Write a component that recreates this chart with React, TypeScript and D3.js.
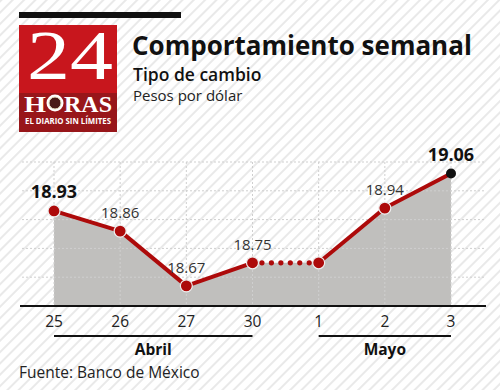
import * as d3 from 'd3';

const days = ['25', '26', '27', '30', '1', '2', '3'];
const rates = [18.93, 18.86, 18.67, 18.75, 18.75, 18.94, 19.06];
const boldLabels = [true, false, false, false, false, false, true];
const hiddenLabels = [false, false, false, false, true, false, false];
const dottedSegments = [3];
const yTicks = [18.7, 18.8, 18.9, 19.0, 19.1];
const monthNames = ['Abril', 'Mayo'];
const monthFirst = [0, 4];
const monthLast = [3, 6];

const W = 500;
const H = 390;
const FONT = '"Open Sans", sans-serif';
const RED = '#ad0a0a';

export default function App() {
  const x = d3.scalePoint<string>().domain(days).range([54, 451]);
  const y = d3.scaleLinear().domain([18.6, 19.1]).range([306, 162]);

  const pts: [number, number][] = days.map((d, i) => [x(d)!, y(rates[i])]);
  const area = d3.area<[number, number]>().x((p) => p[0]).y0(y(18.6)).y1((p) => p[1]);
  const line = d3.line();

  return (
    <svg width={W} height={H} style={{ position: 'absolute', left: 0, top: 0, fontFamily: FONT }}>
      <defs>
        <pattern id="stripes" patternUnits="userSpaceOnUse" width={8} height={8} patternTransform="rotate(45)">
          <rect width={8} height={8} fill="#fff" />
          <line x1={1} y1={0} x2={1} y2={8} stroke="#dedede" strokeWidth={1.3} />
        </pattern>
      </defs>
      <rect width={W} height={H} fill="url(#stripes)" />

      {/* header */}
      <rect x={19} y={12} width={162} height={6} fill="#111" />
      <rect x={19} y={25} width={98} height={107} fill="#c8161d" />
      <rect x={19} y={93} width={98} height={39} fill="#98161a" />
      <text x={27} y={79} fill="#fff" fontFamily='"Liberation Serif", serif' fontSize={70}
        textLength={86} lengthAdjust="spacingAndGlyphs">24</text>
      <text x={24} y={112} fill="#fff" fontFamily='"Liberation Serif", serif' fontWeight="bold" fontSize={24}
        textLength={22} lengthAdjust="spacingAndGlyphs">H</text>
      <circle cx={55} cy={103} r={8.5} fill="#fff" />
      <circle cx={55} cy={103} r={6} fill="#4a1a18" stroke="#e8e0c0" strokeWidth={1} />
      <text x={64} y={112} fill="#fff" fontFamily='"Liberation Serif", serif' fontWeight="bold" fontSize={24}
        textLength={48} lengthAdjust="spacingAndGlyphs">RAS</text>
      <text x={25} y={124} fill="#fff" fontWeight="bold" fontSize={8.5}
        textLength={86} lengthAdjust="spacingAndGlyphs">EL DIARIO SIN LÍMITES</text>

      <text x={132} y={55} fill="#111" fontWeight="bold" fontSize={26}>Comportamiento semanal</text>
      <text x={133} y={81} fill="#111" fontWeight={600} fontSize={17.5}>Tipo de cambio</text>
      <text x={133} y={101} fill="#222" fontSize={15}>Pesos por dólar</text>

      {/* area */}
      <path d={area(pts)!} fill="#c0bfbd" />

      {/* grid */}
      {yTicks.map((t) => (
        <line key={t} x1={22} x2={485} y1={y(t)} y2={y(t)} stroke="#cfcfcf" strokeDasharray="2,2" />
      ))}
      {days.map((d) => (
        <line key={d} x1={x(d)} x2={x(d)} y1={y(19.1)} y2={306} stroke="#cfcfcf" strokeDasharray="2,2" />
      ))}

      <line x1={20} x2={486} y1={306} y2={306} stroke="#111" strokeWidth={2} />

      {/* line */}
      {pts.slice(1).map((p, k) => {
        const a = pts[k];
        if (dottedSegments.includes(k)) {
          const n = 7;
          return (
            <g key={k}>
              {d3.range(1, n).map((j) => (
                <circle key={j} cx={a[0] + ((p[0] - a[0]) * j) / n} cy={a[1] + ((p[1] - a[1]) * j) / n} r={2.6} fill={RED} />
              ))}
            </g>
          );
        }
        return <path key={k} d={line([a, p])!} stroke={RED} strokeWidth={4} fill="none" />;
      })}

      {pts.map((p, i) => (
        <circle key={i} cx={p[0]} cy={p[1]} r={i === pts.length - 1 ? 5 : 6}
          fill={i === pts.length - 1 ? '#111' : RED}
          stroke={i === pts.length - 1 ? 'none' : '#eee'} strokeWidth={1.2} />
      ))}

      {/* value labels */}
      {pts.map((p, i) => hiddenLabels[i] ? null : (
        <text key={i} x={p[0]} y={p[1] - 13} textAnchor="middle"
          fontSize={boldLabels[i] ? 18 : 15} fontWeight={boldLabels[i] ? 'bold' : 'normal'}
          fill={boldLabels[i] ? '#111' : '#333'}>
          {rates[i].toFixed(2)}
        </text>
      ))}

      {/* x ticks */}
      {days.map((d) => (
        <text key={d} x={x(d)} y={327} textAnchor="middle" fontSize={15.5} fill="#222">{d}</text>
      ))}

      {/* months */}
      {monthNames.map((m, i) => {
        const x0 = x(days[monthFirst[i]])!;
        const x1 = x(days[monthLast[i]])!;
        return (
          <g key={m}>
            <line x1={x0} x2={x1} y1={336} y2={336} stroke="#111" strokeWidth={2} />
            <text x={(x0 + x1) / 2} y={355} textAnchor="middle" fontSize={15.5} fontWeight="bold" fill="#111">{m}</text>
          </g>
        );
      })}

      <text x={19} y={378} fontSize={15.5} fill="#222">Fuente: Banco de México</text>
    </svg>
  );
}
